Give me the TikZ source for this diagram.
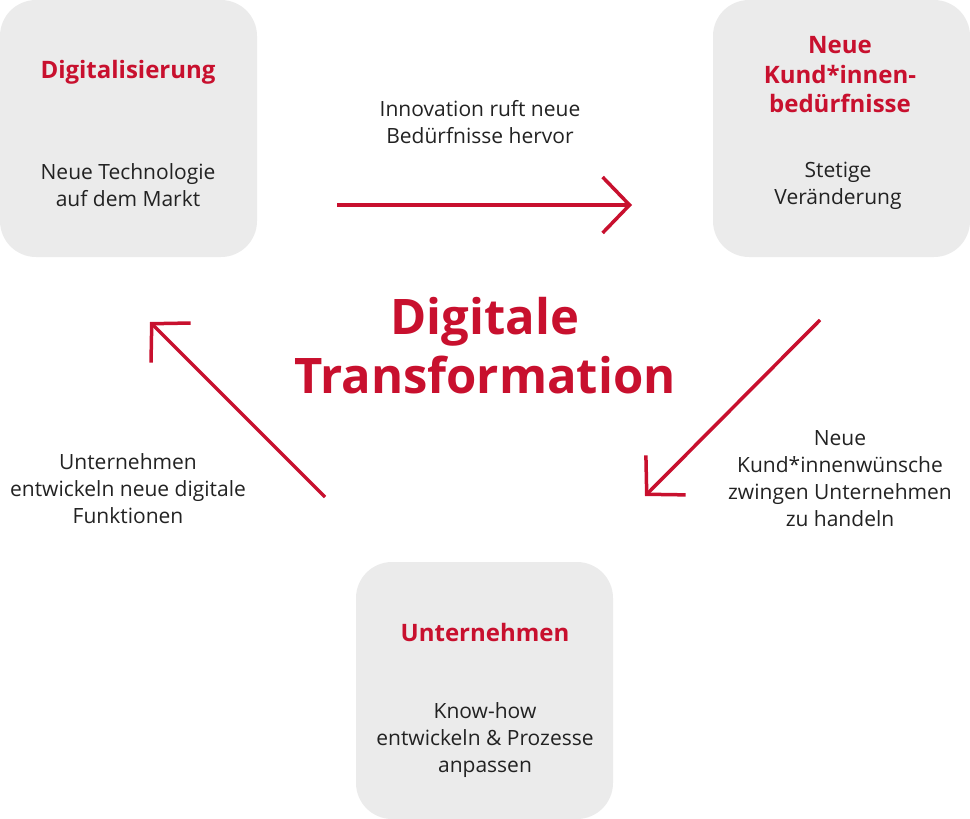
\documentclass[tikz,border=0pt]{standalone}
\usepackage{fontspec}
\setmainfont{Open Sans}
\usetikzlibrary{arrows.meta}
\definecolor{boxgray}{HTML}{EBEBEB}
\definecolor{accent}{HTML}{C8102E}
\definecolor{txt}{HTML}{222222}
\tikzset{
  card/.style={fill=boxgray, rounded corners=36pt, minimum width=257pt, minimum height=257pt, inner sep=0pt},
  ttl/.style={text=accent, font=\fontsize{24}{29.5}\selectfont\bfseries, align=center},
  body/.style={text=txt, font=\fontsize{21}{27}\selectfont, align=center},
  flow/.style={draw=accent, line width=3.5pt, -{Straight Barb[length=27pt,width=56pt,line width=3.5pt]}},
}
\begin{document}
\begin{tikzpicture}[x=1pt,y=-1pt]
\useasboundingbox (0,0) rectangle (970,819);
\node[card] (b1) at (128.5,128.5) {};
\node[card] (b2) at (841.5,128.5) {};
\node[card] (b3) at (484.5,690.5) {};
\node[ttl] (t1) at (128,72) {Digitalisierung};
\node[body] (s1) at (128,185) {Neue Technologie\\auf dem Markt};
\node[ttl] (t2) at (840,75) {Neue\\Kund*innen-\\bedürfnisse};
\node[body] (s2) at (838,186) {Stetige\\Veränderung};
\node[ttl] (t3) at (485,632) {Unternehmen};
\node[body] (s3) at (485,740) {Know-how\\entwickeln \& Prozesse\\anpassen};
\node[text=accent, font=\fontsize{49}{59}\selectfont\bfseries, align=center] (c) at (485,346) {Digitale\\Transformation};
\node[body] (l1) at (480,122) {Innovation ruft neue\\Bedürfnisse hervor};
\node[body] (l2) at (840,479) {Neue\\Kund*innenwünsche\\zwingen Unternehmen\\zu handeln};
\node[body] (l3) at (128,489) {Unternehmen\\entwickeln neue digitale\\Funktionen};
\coordinate (a1s) at (337,205);
\coordinate (a1e) at (632,205);
\coordinate (a2s) at (820,320);
\coordinate (a2e) at (645,496);
\coordinate (a3s) at (325,497);
\coordinate (a3e) at (150,322);
\draw[flow] (a1s) -- (a1e);
\draw[flow] (a2s) -- (a2e);
\draw[flow] (a3s) -- (a3e);
\end{tikzpicture}
\end{document}
